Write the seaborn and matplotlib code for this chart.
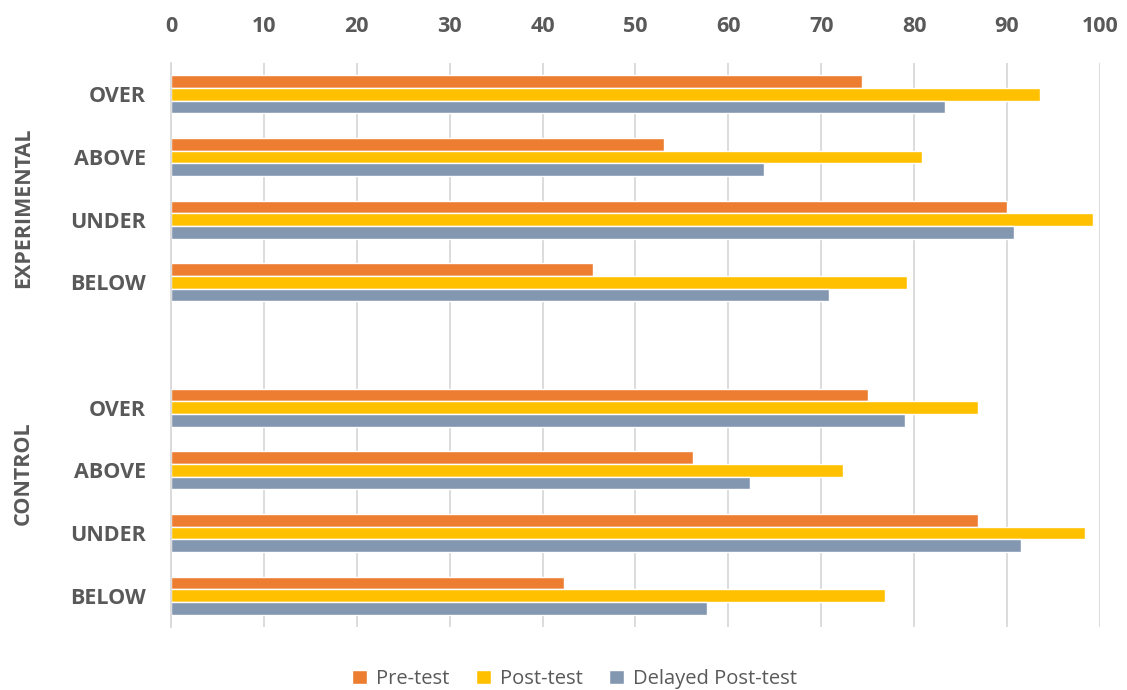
import pandas as pd
import matplotlib.pyplot as plt
import seaborn as sns

# categories from top to bottom (one empty slot between the two groups)
slots = ["E_OVER", "E_ABOVE", "E_UNDER", "E_BELOW", "GAP",
         "C_OVER", "C_ABOVE", "C_UNDER", "C_BELOW"]
slot_labels = ["OVER", "ABOVE", "UNDER", "BELOW", "",
               "OVER", "ABOVE", "UNDER", "BELOW"]
data_slots = ["E_OVER", "E_ABOVE", "E_UNDER", "E_BELOW",
              "C_OVER", "C_ABOVE", "C_UNDER", "C_BELOW"]

series = ["Pre-test", "Post-test", "Delayed Post-test"]
pre_test = [74.4, 53.1, 90.0, 45.4, 75.0, 56.2, 86.9, 42.3]
post_test = [93.6, 80.8, 99.2, 79.2, 86.9, 72.3, 98.4, 76.9]
delayed_post = [83.3, 63.8, 90.8, 70.8, 79.0, 62.3, 91.5, 57.7]
colors = ["#ED7D31", "#FFC000", "#8497B0"]

x_ticks = list(range(0, 101, 10))

rows = []
for name, vals in zip(series, [pre_test, post_test, delayed_post]):
    for s, v in zip(data_slots, vals):
        rows.append({"slot": s, "test": name, "score": v})
df = pd.DataFrame(rows)

sns.set_style("white")
plt.rcParams["font.family"] = ["Open Sans", "DejaVu Sans"]

fig = plt.figure(figsize=(11.27, 6.9), dpi=100)
ax = fig.add_axes([0.1517, 0.0913, 0.8243, 0.8174])

sns.barplot(data=df, x="score", y="slot", hue="test", order=slots,
            hue_order=series, palette=colors, orient="h", width=0.61,
            saturation=1, ax=ax, legend=True)

ax.set_xlim(0, 100)
ax.set_xticks(x_ticks)
ax.xaxis.tick_top()
ax.tick_params(axis="x", length=0, pad=19, labelsize=15.5, labelcolor="#595959")
ax.tick_params(axis="y", length=0, pad=18, labelsize=15.5, labelcolor="#595959")
for t in ax.get_xticklabels():
    t.set_fontweight("bold")
ax.set_yticks(range(len(slots)))
ax.set_yticklabels(slot_labels, fontweight="bold")
ax.set_xlabel("")
ax.set_ylabel("")
ax.grid(axis="x", color="#d9d9d9", linewidth=1.3)
ax.set_axisbelow(True)
for sp in ["top", "right", "bottom"]:
    ax.spines[sp].set_visible(False)
ax.spines["left"].set_color("#d9d9d9")
ax.spines["left"].set_linewidth(1.3)

fig.text(0.021, 1 - 208 / 690, "EXPERIMENTAL", rotation=90, ha="center", va="center",
         fontsize=15.5, fontweight="bold", color="#595959")
fig.text(0.021, 1 - 473 / 690, "CONTROL", rotation=90, ha="center", va="center",
         fontsize=15.5, fontweight="bold", color="#595959")

handles, labels = ax.get_legend_handles_labels()
ax.get_legend().remove()
fig.legend(handles, labels, loc="center", bbox_to_anchor=(0.51, 0.016),
           ncol=3, frameon=False, fontsize=14.5, handlelength=0.75, handleheight=0.75,
           handletextpad=0.45, columnspacing=1.3, labelcolor="#595959")

fig.savefig("out.png", dpi=100)
